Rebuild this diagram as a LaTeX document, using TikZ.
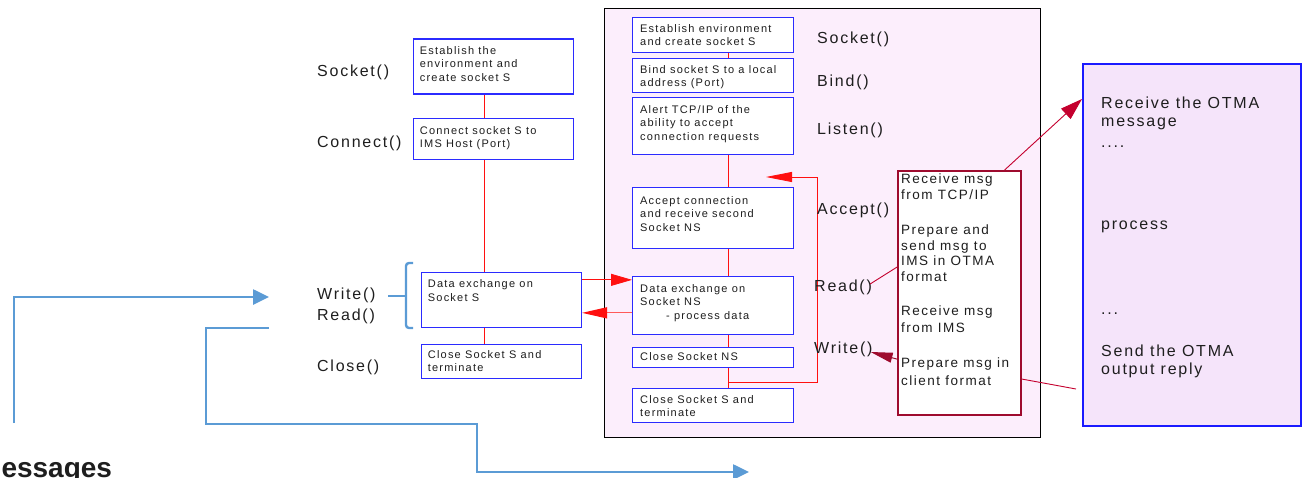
\documentclass[tikz,border=0pt]{standalone}
\usepackage{fontspec}
\setmainfont{Liberation Sans}
\newfontfamily\trackfont[LetterSpace=11]{Liberation Sans}
\usetikzlibrary{arrows.meta,calc}

\definecolor{boxblue}{HTML}{2B2BFF}
\definecolor{linkred}{HTML}{FF1010}
\definecolor{softred}{HTML}{FF5A5A}
\definecolor{wine}{HTML}{9E0B2E}
\definecolor{crimson}{HTML}{C4002E}
\definecolor{steel}{HTML}{5B9BD5}
\definecolor{pinkbg}{HTML}{FCEEFC}
\definecolor{lavender}{HTML}{F5E4FA}
\definecolor{otmablue}{HTML}{1A1AFF}
\definecolor{ink}{HTML}{1E1E1E}

\newcommand\cellfont{\trackfont\fontsize{11}{13.5}\selectfont}
\newcommand\callfont{\trackfont\fontsize{16}{19}\selectfont}
\newcommand\msgfont{\trackfont\fontsize{13.5}{15.5}\selectfont}
\newcommand\otmafont{\trackfont\fontsize{16}{18}\selectfont}

\tikzset{
  stepbox/.style={draw=boxblue, line width=1.3pt, fill=white, anchor=north west, inner sep=0pt},
  celltext/.style={anchor=north west, inner sep=0pt, align=left, font=\cellfont, text=ink},
  call/.style={anchor=west, inner sep=0pt, font=\callfont, text=ink},
  msgtext/.style={anchor=north west, inner sep=0pt, align=left, font=\msgfont, text=ink},
  otmatext/.style={inner sep=0pt, align=left, font=\otmafont, text=ink},
  flow/.style={draw=linkred, line width=0.8pt},
  blueflow/.style={draw=steel, line width=2.6pt},
}

\begin{document}
\begin{tikzpicture}[x=1pt, y=-1pt]
\useasboundingbox (0,0) rectangle (1302,477);
\clip (0,0) rectangle (1302,477);

% ---------- client side ----------
\node[stepbox, minimum width=160pt, minimum height=55pt] (A1) at (412.7,38.3) {};
\node[celltext] (A1t) at ([shift={(7,8)}]A1.north west) {Establish the\\environment and\\create socket S};
\node[stepbox, minimum width=160pt, minimum height=41pt] (A2) at (412.7,118) {};
\node[celltext] (A2t) at ([shift={(7,8)}]A2.north west) {Connect socket S to\\IMS Host (Port)};
\node[stepbox, minimum width=160pt, minimum height=55pt] (A3) at (420.7,271.7) {};
\node[celltext] (A3t) at ([shift={(7,8)}]A3.north west) {Data exchange on\\Socket S};
\node[stepbox, minimum width=160pt, minimum height=34pt] (A4) at (420.7,344) {};
\node[celltext] (A4t) at ([shift={(7,6)}]A4.north west) {Close Socket S and\\terminate};

\coordinate (lx) at (484,0);
\draw[flow] (A1.south -| lx) -- (A2.north -| lx);
\draw[flow] (A2.south -| lx) -- (A3.north -| lx);
\draw[flow] (A3.south -| lx) -- (A4.north -| lx);

\node[call] (cSocket)  at (317,72)  {Socket()};
\node[call] (cConnect) at (317,143) {Connect()};
\node[call] (cWrite)   at (317,295) {Write()};
\node[call] (cRead)    at (317,316) {Read()};
\node[call] (cClose)   at (317,367) {Close()};

% bracket grouping Write()/Read()
\draw[blueflow, line width=2.4pt, rounded corners=3pt] (413,263) -- (406,263) -- (406,328) -- (413,328);
\draw[blueflow, line width=2.4pt] (388,296) -- (406,296);

% ---------- server side ----------
\node[draw=black, line width=0.8pt, fill=pinkbg, anchor=north west, inner sep=0pt,
      minimum width=436pt, minimum height=429pt] (srv) at (603.5,8) {};

\node[stepbox, minimum width=161pt, minimum height=35pt] (B1) at (632,17) {};
\node[celltext] (B1t) at ([shift={(8,7)}]B1.north west) {Establish environment\\and create socket S};
\node[stepbox, minimum width=161pt, minimum height=34pt] (B2) at (632,58) {};
\node[celltext] (B2t) at ([shift={(8,7)}]B2.north west) {Bind socket S to a local\\address (Port)};
\node[stepbox, minimum width=161pt, minimum height=57pt] (B3) at (632,97) {};
\node[celltext] (B3t) at ([shift={(8,8)}]B3.north west) {Alert TCP/IP of the\\ability to accept\\connection requests};
\node[stepbox, minimum width=161pt, minimum height=61pt] (B4) at (632,187) {};
\node[celltext] (B4t) at ([shift={(8,9)}]B4.north west) {Accept connection\\and receive second\\Socket NS};
\node[stepbox, minimum width=161pt, minimum height=58pt] (B5) at (632,276) {};
\node[celltext] (B5t) at ([shift={(8,8)}]B5.north west) {Data exchange on\\Socket NS\\\hspace*{26pt}- process data};
\node[stepbox, minimum width=161pt, minimum height=20pt] (B6) at (632,347) {};
\node[celltext] (B6t) at ([shift={(8,5)}]B6.north west) {Close Socket NS};
\node[stepbox, minimum width=161pt, minimum height=34pt] (B7) at (632,388) {};
\node[celltext] (B7t) at ([shift={(8,7)}]B7.north west) {Close Socket S and\\terminate};

\coordinate (mx) at (728,0);
\draw[flow] (B1.south -| mx) -- (B2.north -| mx);
\draw[flow] (B3.south -| mx) -- (B4.north -| mx);
\draw[flow] (B4.south -| mx) -- (B5.north -| mx);
\draw[flow] (B5.south -| mx) -- (B6.north -| mx);
\draw[flow] (B6.south -| mx) -- (B7.north -| mx);

% loop back to accept the next connection
\coordinate (loopStart) at (728,382);
\coordinate (loopTip) at (766,177);
\draw[flow, -{Triangle[length=26pt,width=10pt]}] (loopStart) -- ++(89,0) |- (loopTip);

% data exchange between client and server sockets
\coordinate (ax1) at ([yshift=20pt]A3.east);
\coordinate (ax2) at ([yshift=-13pt]A3.east);
\draw[flow, -{Triangle[length=21pt,width=12pt]}] (ax1) -- (ax1 -| B5.west);
\draw[draw=softred, line width=1.2pt, -{Triangle[length=25pt,width=11pt,color=linkred]}] (ax2 -| B5.west) -- (ax2);

\node[call] (sSocket) at (817,39)  {Socket()};
\node[call] (sBind)   at (817,82)  {Bind()};
\node[call] (sListen) at (817,130) {Listen()};
\node[call] (sAccept) at (817,210) {Accept()};
\node[call] (sRead)   at (814,287) {Read()};
\node[call] (sWrite)  at (814,349) {Write()};

% ---------- OTMA message handling ----------
\node[draw=wine, line width=2.2pt, fill=white, anchor=north west, inner sep=0pt,
      minimum width=123pt, minimum height=244pt] (R) at (897,170) {};
\node[msgtext] (R1) at (901,174) {Receive msg\\from TCP/IP};
\node[msgtext] (R2) at (901,225) {Prepare and\\send msg to\\IMS in OTMA\\format};
\node[msgtext] (R3) at (901,306) {Receive msg\\[1.5pt]from IMS};
\node[msgtext] (R4) at (901,358) {Prepare msg in\\[2pt]client format};

\node[draw=otmablue, line width=2pt, fill=lavender, anchor=north west, inner sep=0pt,
      minimum width=218pt, minimum height=362pt] (otma) at (1082,63) {};
\node[otmatext, anchor=north west] (o1) at (1101,97) {Receive the OTMA\\message};
\node[otmatext, anchor=base west] (o2) at (1101,147) {....};
\node[otmatext, anchor=base west] (o3) at (1101,229) {process};
\node[otmatext, anchor=base west] (o4) at (1101,314) {...};
\node[otmatext, anchor=north west] (o5) at (1101,345) {Send the OTMA\\output reply};

\draw[draw=crimson, line width=0.9pt] ([xshift=-2pt,yshift=3pt]sRead.east) -- ([yshift=26pt]R.west);
\draw[draw=wine, line width=1pt, -{Triangle[length=22pt,width=10pt]}]
  ([yshift=-66pt]R.west) -- ([xshift=-2pt,yshift=-3pt]sWrite.east);
\draw[draw=crimson, line width=0.9pt, -{Triangle[length=22pt,width=14pt]}]
  ([xshift=45pt]R.north) -- ([yshift=146pt]otma.west);
\draw[draw=crimson, line width=0.9pt] ([yshift=-86pt]R.east) -- ([xshift=-6pt,yshift=-144pt]otma.west);

% ---------- message flow ----------
\coordinate (inStart) at (14,423);
\coordinate (inTip) at (269,297);
\draw[blueflow, -{Triangle[length=16pt,width=15pt]}] (inStart) |- (inTip);
\coordinate (outStart) at (269,328);
\coordinate (outTip) at (749,472);
\draw[blueflow, -{Triangle[length=16pt,width=15pt]}]
  (outStart) -- (206,328) -- (206,424) -- (477,424) |- (outTip);

\node[anchor=base west, inner sep=0pt, font=\bfseries\fontsize{28}{30}\selectfont, text=ink] (msgs) at (-22,477) {Messages};
\end{tikzpicture}
\end{document}
